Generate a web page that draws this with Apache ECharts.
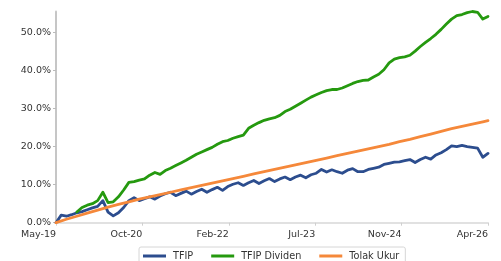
<!DOCTYPE html>
<html>
<head>
<meta charset="utf-8">
<script src="https://cdn.jsdelivr.net/npm/echarts@6/dist/echarts.min.js"></script>
<style>
  html, body { margin: 0; padding: 0; background: #fff; }
  #chart { width: 501px; height: 261px; }
</style>
</head>
<body>
<div id="chart"></div>
<script>
// months since May-19
const xTickValues = [0, 16.6, 33.2, 49.8, 66.4, 83]
const xTickLabels = ['May-19', 'Oct-20', 'Feb-22', 'Jul-23', 'Nov-24', 'Apr-26']
const yTickValues = [0, 10, 20, 30, 40, 50]

const months = Array.from({ length: 84 }, (_, i) => i)

// TFIP (%)
const tfip = [
  0, 2.0, 1.7, 2.1, 2.6, 2.9, 3.4, 3.9, 4.3, 5.8,
  2.8, 1.8, 2.6, 4.0, 5.8, 6.6, 5.8, 6.3, 6.8, 6.2,
  7.0, 7.6, 8.0, 7.1, 7.7, 8.3, 7.5, 8.2, 8.8, 8.0,
  8.7, 9.3, 8.5, 9.5, 10.1, 10.5, 9.8, 10.5, 11.1, 10.3,
  11.0, 11.6, 10.8, 11.5, 12.0, 11.3, 12.0, 12.5, 11.8, 12.6,
  13.0, 14.0, 13.3, 13.9, 13.4, 13.0, 13.8, 14.2, 13.4, 13.4,
  14.0, 14.3, 14.6, 15.3, 15.6, 15.9, 16.0, 16.3, 16.6, 15.8,
  16.6, 17.2, 16.7, 17.8, 18.4, 19.2, 20.2, 20.0, 20.3, 20.0,
  19.8, 19.6, 17.2, 18.2
]

// TFIP Dividen (%), starts a few months later
const tfipDividen = [
  null, null, null, null, 2.8, 4.0, 4.6, 5.0, 5.8, 8.0,
  5.3, 5.5, 6.8, 8.6, 10.6, 10.8, 11.2, 11.5, 12.5, 13.2,
  12.7, 13.7, 14.3, 15.0, 15.7, 16.4, 17.2, 18.0, 18.6, 19.2,
  19.8, 20.6, 21.3, 21.6, 22.2, 22.6, 23.0, 24.8, 25.6, 26.3,
  26.9, 27.3, 27.6, 28.2, 29.2, 29.8, 30.6, 31.4, 32.2, 33.0,
  33.6, 34.2, 34.7, 35.0, 35.0, 35.4, 36.0, 36.6, 37.1, 37.4,
  37.5, 38.3, 39.0, 40.2, 42.0, 43.0, 43.4, 43.6, 44.0, 45.1,
  46.3, 47.4, 48.4, 49.5, 50.8, 52.2, 53.5, 54.4, 54.7, 55.2,
  55.5, 55.3, 53.5, 54.2
]

// Tolak Ukur (%), read every two months
const benchMonths = [0, 2, 4, 6, 8, 10, 12, 14, 16, 18, 20, 22, 24, 26, 28, 30, 32, 34, 36, 38, 40,
  42, 44, 46, 48, 50, 52, 54, 56, 58, 60, 62, 64, 66, 68, 70, 72, 74, 76, 78, 80, 82, 83]
const tolakUkur = [0, 0.9, 1.7, 2.5, 3.3, 4.1, 4.8, 5.5, 6.2, 6.8, 7.4, 8.0, 8.6, 9.2, 9.8, 10.4,
  11.0, 11.6, 12.2, 12.8, 13.4, 14.0, 14.6, 15.2, 15.8, 16.4, 17.0, 17.6, 18.2, 18.8, 19.4,
  20.0, 20.6, 21.3, 21.9, 22.6, 23.3, 24.0, 24.7, 25.3, 25.9, 26.5, 26.8]

const pair = (xs, ys) => xs.map((x, i) => [x, ys[i]])

const chart = echarts.init(document.getElementById('chart'))
const font = 'DejaVu Sans'
const lineSeries = (name, data, color) => ({
  name: name,
  type: 'line',
  data: data,
  showSymbol: false,
  connectNulls: false,
  lineStyle: { width: 2.8, color: color, join: 'round', cap: 'round' },
  itemStyle: { color: color }
})

chart.setOption({
  animation: false,
  textStyle: { fontFamily: font },
  grid: { left: 56, right: 13, top: 11.5, bottom: 38.3 },
  legend: {
    left: 139,
    top: 247,
    padding: [4, 6, 4, 4],
    itemGap: 18,
    itemWidth: 23,
    itemHeight: 3,
    icon: 'rect',
    borderColor: '#d6d6d6',
    borderWidth: 1,
    borderRadius: 2,
    textStyle: { fontFamily: font, fontSize: 9.7, color: '#333', padding: [0, 0, 0, 2] },
    data: ['TFIP', 'TFIP Dividen', 'Tolak Ukur']
  },
  xAxis: {
    type: 'value',
    min: 0,
    max: 83,
    axisLine: { lineStyle: { color: '#d8d8d8', width: 1.5 } },
    axisTick: { show: true, length: 3, customValues: xTickValues, lineStyle: { color: '#cfcfcf' } },
    axisLabel: {
      customValues: xTickValues,
      align: 'right',
      margin: 7,
      fontFamily: font,
      fontSize: 9.5,
      color: '#333',
      formatter: (v) => xTickLabels[Math.round(v / 16.6)]
    },
    splitLine: { show: false }
  },
  yAxis: {
    type: 'value',
    min: 0,
    max: 55.5,
    axisLine: { show: true, lineStyle: { color: '#c6c6c6', width: 2 } },
    axisTick: { show: true, length: 3, customValues: yTickValues, lineStyle: { color: '#bbb' } },
    axisLabel: {
      customValues: yTickValues,
      margin: 5,
      fontFamily: font,
      fontSize: 9.5,
      color: '#333',
      formatter: (v) => v.toFixed(1) + '%'
    },
    splitLine: { show: false }
  },
  series: [
    lineSeries('TFIP', pair(months, tfip), '#2c4d8e'),
    lineSeries('TFIP Dividen', pair(months, tfipDividen), '#25990f'),
    lineSeries('Tolak Ukur', pair(benchMonths, tolakUkur), '#f5883a')
  ]
})
</script>
</body>
</html>
